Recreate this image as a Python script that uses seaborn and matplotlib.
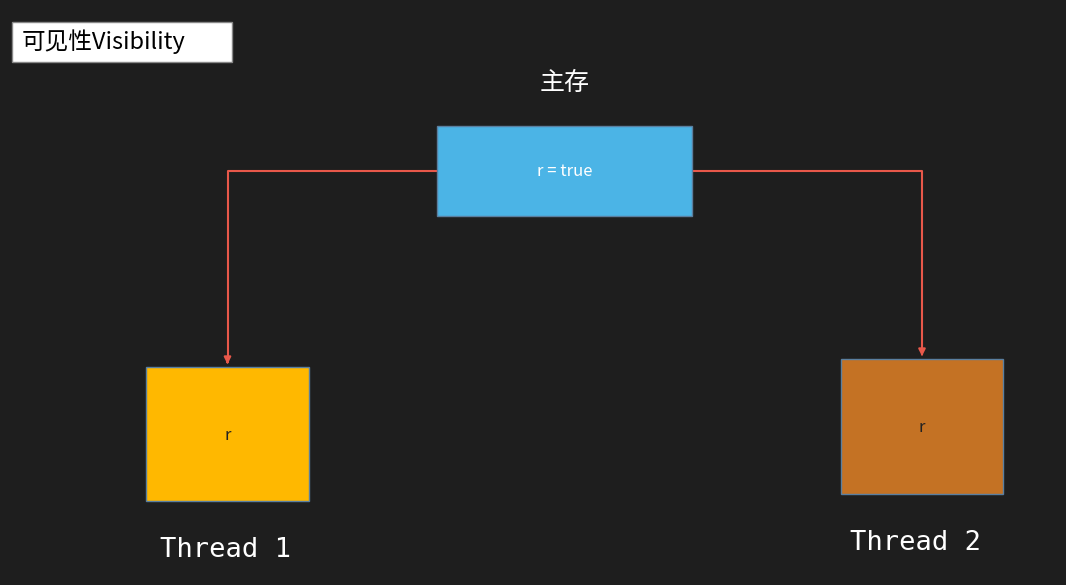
import matplotlib
matplotlib.use("Agg")
import matplotlib.pyplot as plt
import seaborn as sns
from matplotlib.patches import Rectangle

sns.set_theme(style="white")
plt.rcParams['font.family'] = ['Noto Sans CJK SC', 'DejaVu Sans']

# diagram content
box_labels = ["r = true", "r", "r"]
box_x = [437, 146, 841]
box_y = [126, 367, 359]
box_w = [255, 163, 162]
box_h = [90, 134, 135]
box_colors = ["#4BB4E6", "#FFB800", "#C47224"]
box_text_colors = ["white", "#222222", "#222222"]
thread_labels = ["Thread 1", "Thread 2"]
thread_x = [225, 916]
thread_y = [550, 543]

fig = plt.figure(figsize=(10.66, 5.85), dpi=100)
ax = fig.add_axes([0, 0, 1, 1])
ax.set_xlim(0, 1066)
ax.set_ylim(585, 0)
ax.axis("off")
fig.patch.set_facecolor("#1e1e1e")
ax.set_facecolor("#1e1e1e")

# title
ax.add_patch(Rectangle((12, 22), 220, 40, facecolor="white", edgecolor="#888888", lw=1))
ax.text(22, 42, "可见性Visibility", ha="left", va="center", fontsize=17, color="black")
ax.text(565, 83, "主存", ha="center", va="center", fontsize=18, color="white")

for lab, x, y, w, h, c, tc in zip(box_labels, box_x, box_y, box_w, box_h, box_colors, box_text_colors):
    ax.add_patch(Rectangle((x, y), w, h, facecolor=c, edgecolor="#5a7fa0", lw=1, zorder=3))
    ax.text(x + w / 2, y + h / 2 + 1, lab, ha="center", va="center", fontsize=12, color=tc, zorder=4)

red = "#E8584A"
src_y = box_y[0] + box_h[0] / 2
for i, side_x in [(1, box_x[0]), (2, box_x[0] + box_w[0])]:
    tx = box_x[i] + box_w[i] / 2
    ax.plot([side_x, tx, tx], [src_y, src_y, box_y[i] - 6], color=red, lw=1.5, zorder=2)
    ax.annotate("", xy=(tx, box_y[i]), xytext=(tx, box_y[i] - 8),
                arrowprops=dict(arrowstyle="-|>", color=red, lw=1.5, mutation_scale=10), zorder=2)

for lab, x, y in zip(thread_labels, thread_x, thread_y):
    ax.text(x, y, lab, ha="center", va="center", fontsize=19.5, color="white", family="DejaVu Sans Mono")

fig.savefig("out.png", dpi=100, facecolor=fig.get_facecolor())
